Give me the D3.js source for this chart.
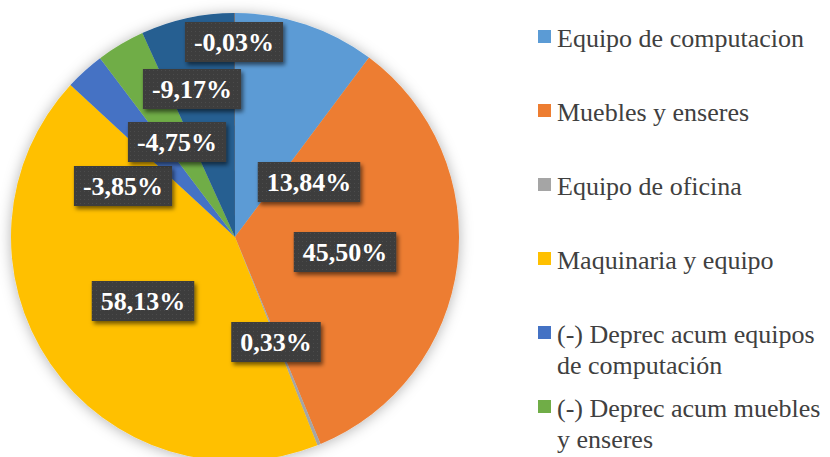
<!DOCTYPE html>
<html>
<head>
<meta charset="utf-8">
<script src="https://cdn.jsdelivr.net/npm/d3@7"></script>
<style>
  body { margin: 0; background: #fff; }
  svg { display: block; }
</style>
</head>
<body>
<svg id="chart" width="830" height="457"></svg>
<script>
// data (percent of total, signed)
var categories = ["Equipo de computacion", "Muebles y enseres", "Equipo de oficina",
  "Maquinaria y equipo", "(-) Deprec acum equipos de computación",
  "(-) Deprec acum muebles y enseres", "(-) Deprec acum maquinaria y equipo",
  "(-) Deprec acum equipo de oficina"];
var values = [13.84, 45.50, 0.33, 58.13, -3.85, -4.75, -9.17, -0.03];
var colors = ["#5B9BD5", "#ED7D31", "#A5A5A5", "#FFC000", "#4472C4", "#70AD47", "#255E91", "#9E480E"];
// legend lines as they wrap in the picture (only the first six fit)
var legendLines = [["Equipo de computacion"], ["Muebles y enseres"], ["Equipo de oficina"],
  ["Maquinaria y equipo"], ["(-) Deprec acum equipos", "de computación"],
  ["(-) Deprec acum muebles", "y enseres"]];
// data label centres, dragged by hand in the original
var labelAt = [[309, 182], [345, 252], [276, 342], [143, 301], [123, 186], [177, 142], [192, 89], [234, 42]];

var serif = "Liberation Serif";
var svg = d3.select("#chart");
var cx = 235, cy = 237, radius = 224;

var defs = svg.append("defs");
var glow = defs.append("filter").attr("id", "pieShadow")
  .attr("x", "-20%").attr("y", "-20%").attr("width", "140%").attr("height", "140%");
glow.append("feDropShadow").attr("dx", 0).attr("dy", 1).attr("stdDeviation", 7)
  .attr("flood-color", "#000").attr("flood-opacity", 0.3);

var boxShadow = defs.append("filter").attr("id", "boxShadow")
  .attr("x", "-20%").attr("y", "-30%").attr("width", "150%").attr("height", "170%");
boxShadow.append("feDropShadow").attr("dx", 2).attr("dy", 3).attr("stdDeviation", 2)
  .attr("flood-color", "#000").attr("flood-opacity", 0.55);

var pat = defs.append("pattern").attr("id", "dots")
  .attr("width", 4).attr("height", 4).attr("patternUnits", "userSpaceOnUse");
pat.append("rect").attr("width", 4).attr("height", 4).attr("fill", "#3d3d3d");
pat.append("rect").attr("x", 1).attr("y", 1).attr("width", 1).attr("height", 1).attr("fill", "#4b4b4b");

var color = d3.scaleOrdinal().domain(categories).range(colors);

var pie = d3.pie()
  .sort(null)
  .value(function(d) { return Math.abs(d.value); });

var data = categories.map(function(c, i) { return { name: c, value: values[i] }; });

var arc = d3.arc().innerRadius(0).outerRadius(radius);

var g = svg.append("g").attr("transform", "translate(" + cx + "," + cy + ")");

g.append("g")
  .attr("filter", "url(#pieShadow)")
  .selectAll("path")
  .data(pie(data))
  .enter().append("path")
  .attr("d", arc)
  .attr("fill", function(d) { return color(d.data.name); });

// data labels
var fmt = function(v) { return v.toFixed(2).replace(".", ",") + "%"; };

var labels = svg.append("g").selectAll("g.lbl")
  .data(data)
  .enter().append("g")
  .attr("class", "lbl")
  .attr("transform", function(d, i) { return "translate(" + labelAt[i][0] + "," + labelAt[i][1] + ")"; });

labels.append("rect").attr("class", "box");
labels.append("text")
  .attr("text-anchor", "middle")
  .attr("y", 9)
  .attr("font-family", serif)
  .attr("font-size", 26)
  .attr("font-weight", "bold")
  .attr("fill", "#fff")
  .text(function(d) { return fmt(d.value); });

labels.each(function() {
  var el = d3.select(this);
  var w = el.select("text").node().getComputedTextLength() + 18;
  el.select("rect")
    .attr("x", -w / 2).attr("y", -20)
    .attr("width", w).attr("height", 40)
    .attr("fill", "url(#dots)")
    .attr("filter", "url(#boxShadow)");
});

// legend
var legend = svg.append("g").attr("class", "legend").attr("transform", "translate(538,0)");
var rowY = d3.scaleLinear().domain([0, 1]).range([47, 121]);

var item = legend.selectAll("g")
  .data(legendLines)
  .enter().append("g")
  .attr("transform", function(d, i) { return "translate(0," + rowY(i) + ")"; });

item.append("rect")
  .attr("x", 0).attr("y", -17)
  .attr("width", 13).attr("height", 13)
  .attr("fill", function(d, i) { return colors[i]; });

item.append("text")
  .attr("x", 19)
  .attr("font-family", serif)
  .attr("font-size", 26)
  .attr("fill", "#404040")
  .selectAll("tspan")
  .data(function(d) { return d; })
  .enter().append("tspan")
  .attr("x", 19)
  .attr("y", function(d, j) { return j * 31; })
  .text(function(d) { return d; });
</script>
</body>
</html>
